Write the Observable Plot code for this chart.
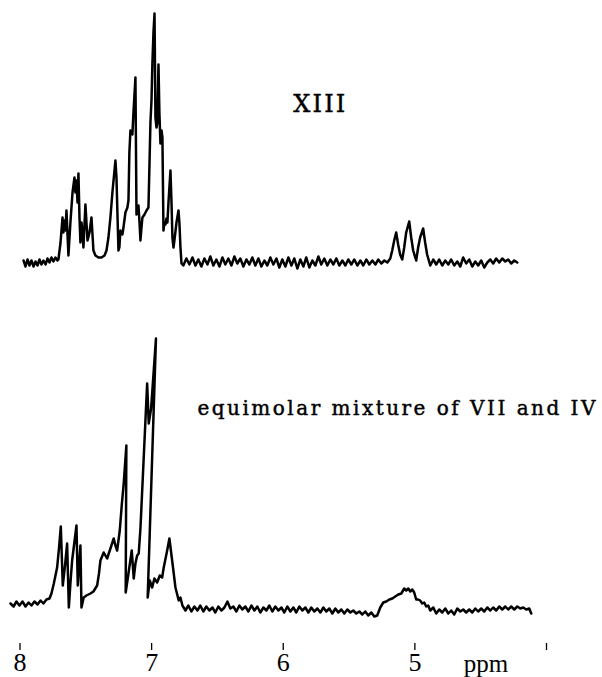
<!DOCTYPE html>
<html><head><meta charset="utf-8">
<script src="https://cdn.jsdelivr.net/npm/d3@7"></script>
<script src="https://cdn.jsdelivr.net/npm/@observablehq/plot@0.6"></script>
<style>
html,body{margin:0;padding:0;background:#fff;}
#chart{width:602px;height:677px;overflow:hidden;background:#fff;}
#chart svg{display:block;}
</style></head><body><div id="chart"></div>
<script>
// [ppm, intensity]
const xiiiSpectrum = [
[7.973,2],[7.958,-4],[7.943,3],[7.928,-3],[7.913,2],[7.897,-4],[7.882,1],[7.867,-3],[7.852,3],[7.837,-2],[7.822,2],[7.806,-2],[7.791,4],[7.776,0],[7.761,5],[7.746,1],[7.731,5],[7.715,2],
[7.708,3],[7.692,20],[7.677,45],[7.670,30],[7.662,42],[7.655,32],[7.647,52],[7.632,7],[7.617,40],[7.601,70],[7.586,85],[7.579,70],[7.571,82],[7.563,60],[7.556,89],[7.548,45],[7.541,20],[7.533,40],[7.525,30],[7.518,15],[7.503,58],[7.487,22],[7.472,30],[7.457,45],[7.442,12],[7.427,7],[7.404,5],[7.381,5],[7.358,7],[7.343,12],[7.328,25],[7.313,45],[7.298,70],[7.275,102],[7.267,85],[7.260,50],[7.252,12],[7.245,15],[7.237,32],[7.222,28],[7.214,35],[7.199,50],[7.184,55],[7.176,62],[7.169,110],[7.161,132],[7.146,128],[7.138,150],[7.123,185],[7.115,48],[7.108,50],[7.100,57],[7.092,40],[7.085,22],[7.077,35],[7.070,45],[7.054,48],[7.039,52],[7.024,55],[7.016,100],[7.009,140],[7.001,162],[6.994,200],[6.986,230],[6.978,249],[6.971,145],[6.963,135],[6.956,140],[6.948,198],[6.941,150],[6.933,119],[6.925,132],[6.918,125],[6.910,32],[6.903,40],[6.895,38],[6.887,44],[6.880,40],[6.872,60],[6.857,92],[6.849,60],[6.842,25],[6.834,15],[6.827,22],[6.811,40],[6.796,52],[6.789,40],[6.781,15],[6.773,-1],
[6.759,-3],[6.736,4],[6.713,-2],[6.690,5],[6.667,-3],[6.645,3],[6.622,-4],[6.599,4],[6.576,-2],[6.554,6],[6.531,-3],[6.508,3],[6.485,-4],[6.462,5],[6.440,-2],[6.417,4],[6.394,-3],[6.371,6],[6.349,-1],[6.326,4],[6.303,-4],[6.280,3],[6.257,-2],[6.235,5],[6.212,-3],[6.189,4],[6.166,-4],[6.143,2],[6.121,-3],[6.098,5],[6.075,-2],[6.052,4],[6.030,-5],[6.007,3],[5.984,-4],[5.961,5],[5.938,-3],[5.916,4],[5.893,-6],[5.870,3],[5.847,-4],[5.825,5],[5.802,-5],[5.779,2],[5.756,-3],[5.733,6],[5.711,-2],[5.688,4],[5.665,-3],[5.642,3],[5.619,-2],[5.597,4],[5.574,-3],[5.551,2],[5.528,-3],[5.506,3],[5.483,-2],[5.460,3],[5.437,-3],[5.414,2],[5.392,-3],[5.369,3],[5.346,-2],[5.323,2],[5.300,-2],[5.278,3],[5.255,-1],[5.232,2],[5.209,0],[5.187,4],
[5.172,12],[5.157,22],[5.142,30],[5.127,18],[5.112,8],[5.096,3],[5.081,15],[5.066,30],[5.043,41],[5.028,25],[5.013,12],[4.990,2],[4.975,15],[4.960,25],[4.937,34],[4.922,20],[4.907,8],[4.883,-3],
[4.860,3],[4.838,-2],[4.815,3],[4.792,-3],[4.769,2],[4.746,-2],[4.724,3],[4.701,-3],[4.678,1],[4.655,-4],[4.633,5],[4.610,-1],[4.587,3],[4.564,-4],[4.541,1],[4.519,-3],[4.496,2],[4.473,-5],[4.450,0],[4.427,3],[4.405,-1],[4.382,4],[4.359,0],[4.336,4],[4.313,1],[4.291,3],[4.268,-1],[4.245,2],[4.222,0]
];
const mixtureSpectrum = [
[8.072,0],[8.049,-3],[8.027,2],[8.004,-2],[7.981,2],[7.958,-3],[7.935,1],[7.913,-2],[7.890,2],[7.867,-1],[7.844,3],[7.822,0],[7.799,4],[7.776,5],[7.761,10],
[7.743,20],[7.718,36],[7.704,55],[7.690,77],[7.675,18],[7.658,38],[7.642,60],[7.629,-4],[7.617,20],[7.604,43],[7.586,62],[7.571,78],[7.561,18],[7.550,40],[7.541,58],[7.533,-4],[7.516,6],[7.495,8],[7.465,10],[7.442,12],[7.414,18],[7.400,30],[7.389,43],[7.364,51],[7.351,48],[7.338,45],[7.313,55],[7.288,65],[7.275,58],[7.262,53],[7.242,73],[7.226,100],[7.212,120],[7.192,158],[7.197,11],[7.176,30],[7.151,53],[7.136,25],[7.123,40],[7.110,48],[7.098,50],[7.085,75],[7.034,220],[7.022,180],[7.004,195],[6.967,265],[7.030,6],[7.014,23],[6.996,16],[6.979,25],[6.958,21],[6.938,28],[6.920,26],[6.908,36],[6.882,53],[6.865,65],[6.844,43],[6.819,16],[6.794,3],[6.781,6],
[6.766,-2],[6.743,-7],[6.721,-2],[6.698,-8],[6.675,-3],[6.652,-7],[6.630,-2],[6.607,-8],[6.584,-3],[6.561,-7],[6.538,-4],[6.516,-9],[6.493,-3],[6.470,-7],[6.447,-4],[6.424,2],[6.402,-5],[6.379,-3],[6.356,-8],[6.333,-2],[6.311,-6],[6.288,-3],[6.265,-8],[6.242,-2],[6.219,-7],[6.197,-3],[6.174,-9],[6.151,-4],[6.128,-7],[6.106,-2],[6.083,-8],[6.060,-3],[6.037,-7],[6.014,-4],[5.992,-9],[5.969,-3],[5.946,-8],[5.923,-4],[5.901,-9],[5.878,-3],[5.855,-7],[5.832,-4],[5.809,-9],[5.787,-4],[5.764,-8],[5.741,-5],[5.718,-9],[5.695,-4],[5.673,-8],[5.650,-5],[5.627,-10],[5.604,-5],[5.582,-9],[5.559,-6],[5.536,-10],[5.513,-6],[5.490,-9],[5.468,-7],[5.445,-10],[5.422,-8],[5.399,-11],[5.377,-8],[5.354,-12],[5.331,-9],[5.308,-13],
[5.286,-12],[5.263,-4],[5.240,1],[5.217,2],[5.194,4],[5.171,5],[5.149,7],[5.126,9],[5.103,10],[5.081,15],[5.066,13],[5.050,15],[5.035,12],[5.020,14],[5.005,11],[4.990,4],[4.975,4],[4.960,3],[4.944,0],[4.929,1],[4.914,-3],[4.899,-2],[4.883,-7],[4.860,-4],[4.838,-10],[4.815,-6],[4.792,-9],[4.769,-5],[4.746,-10],[4.724,-7],[4.701,-11],[4.678,-5],[4.655,-8],[4.633,-6],[4.610,-9],[4.587,-6],[4.564,-9],[4.541,-5],[4.519,-8],[4.496,-5],[4.473,-8],[4.450,-4],[4.427,-7],[4.405,-4],[4.382,-7],[4.359,-3],[4.336,-6],[4.313,-3],[4.291,-6],[4.268,-3],[4.245,-6],[4.222,-3],[4.199,-5],[4.177,-4],[4.154,-6],[4.131,-5],[4.116,-10]
];
const ppmTicks = [8, 7, 6, 5, 4];
const tickLabels = ["8", "7", "6", "5", ""];
const labelXIII = "XIII";
const labelMixture = "equimolar mixture of VII and IV";
const axisUnit = "ppm";
// label anchors in data units
const xiiiLabelAt = {ppm: 5.726, intensity: 168};
const mixtureLabelAt = {ppm: 6.652, intensity: 203};
const unitLabelAt = 4.46;

const common = {
  width: 602, marginLeft: 19.5, marginRight: 56,
  x: {domain: [8, 4], axis: null},
  style: {background: "white", overflow: "visible", color: "#000"}
};
const traceStyle = {x: d => d[0], y: d => d[1], stroke: "#000", strokeWidth: 2.5, strokeLinejoin: "round", strokeLinecap: "round"};
const labelFont = {fill: "#000", stroke: "#000", strokeWidth: 0.45, fontFamily: "DejaVu Serif"};

const topPlot = Plot.plot({
  ...common, height: 300, marginTop: 0, marginBottom: 38,
  y: {domain: [0, 262], axis: null},
  marks: [
    Plot.line(xiiiSpectrum, traceStyle),
    Plot.text([labelXIII], {x: xiiiLabelAt.ppm, y: xiiiLabelAt.intensity, text: d => d, textAnchor: "middle", lineAnchor: "top", fontSize: 24, ...labelFont})
  ]
});

const bottomPlot = Plot.plot({
  ...common, height: 377, marginTop: 38, marginBottom: 34,
  y: {domain: [-40, 265], axis: null},
  marks: [
    Plot.line(mixtureSpectrum, traceStyle),
    Plot.text([labelMixture], {x: mixtureLabelAt.ppm, y: mixtureLabelAt.intensity, text: d => d, textAnchor: "start", lineAnchor: "top", fontSize: 20, ...labelFont}),
    Plot.axisX({anchor: "bottom", ticks: ppmTicks, tickSize: 7, tickPadding: 2, tickFormat: d => tickLabels[ppmTicks.indexOf(d)], fontSize: 26, fontFamily: "Liberation Serif", label: null, strokeWidth: 1.3}),
    Plot.text([axisUnit], {x: unitLabelAt, frameAnchor: "bottom", dy: 11, text: d => d, textAnchor: "middle", lineAnchor: "top", fontSize: 25, fontFamily: "Liberation Serif", fill: "#000"})
  ]
});

const chart = document.getElementById("chart");
chart.appendChild(topPlot);
chart.appendChild(bottomPlot);

d3.select(topPlot).selectAll("text").filter(function(){ return this.textContent === labelXIII; })
  .attr("textLength", 52).attr("lengthAdjust", "spacing");
d3.select(bottomPlot).selectAll("text").filter(function(){ return this.textContent === labelMixture; })
  .attr("textLength", 398).attr("lengthAdjust", "spacing");
</script></body></html>
